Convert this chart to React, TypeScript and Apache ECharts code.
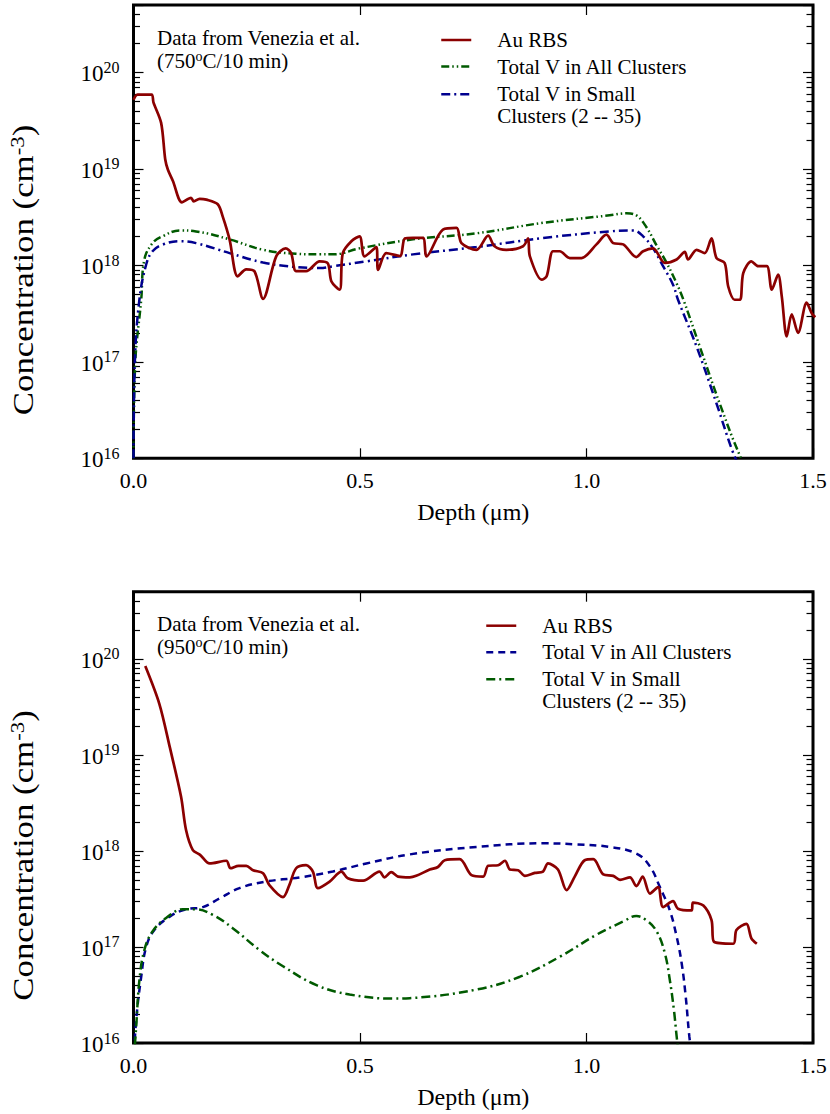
import React, { useEffect, useRef } from 'react';
import * as echarts from 'echarts';

const FONT = "'Liberation Serif', 'Times New Roman', serif";

// ---------- Upper panel: 750°C / 10 min ----------
const topAuDepth = [0.000,0.009,0.040,0.044,0.061,0.070,0.076,0.087,0.107,0.127,0.133,0.146,0.161,0.186,0.197,0.212,0.230,0.249,0.267,0.286,0.315,0.336,0.348,0.359,0.381,0.411,0.429,0.437,0.455,0.462,0.481,0.499,0.510,0.536,0.540,0.558,0.588,0.599,0.617,0.639,0.647,0.683,0.713,0.724,0.757,0.783,0.797,0.823,0.860,0.871,0.875,0.901,0.912,0.926,0.941,0.963,0.989,1.022,1.044,1.059,1.081,1.110,1.125,1.147,1.173,1.199,1.217,1.224,1.243,1.261,1.276,1.287,1.305,1.313,1.327,1.339,1.346,1.364,1.379,1.398,1.409,1.423,1.431,1.442,1.453,1.467,1.486,1.497,1.505];
const topAuConc = [5.2e19,5.9e19,5.9e19,4.9e19,3.0e19,1.26e19,9.8e18,7.5e18,4.5e18,5.0e18,4.6e18,4.9e18,4.8e18,4.3e18,3.2e18,1.86e18,7.7e17,9.1e17,8.7e17,4.5e17,1.24e18,1.5e18,1.34e18,8.7e17,8.7e17,1.1e18,1.05e18,6.8e17,5.6e17,1.34e18,1.78e18,2.0e18,1.24e18,1.55e18,9.0e17,1.34e18,1.25e18,1.9e18,1.93e18,1.93e18,1.24e18,2.35e18,2.45e18,1.7e18,1.45e18,2.03e18,1.58e18,1.45e18,1.58e18,1.9e18,1.24e18,7.1e17,7.7e17,1.4e18,1.4e18,1.19e18,1.19e18,1.65e18,2.08e18,1.7e18,1.65e18,1.22e18,1.4e18,1.5e18,1.06e18,1.15e18,1.38e18,1.15e18,1.45e18,1.34e18,1.9e18,1.19e18,1.06e18,6.0e17,4.4e17,4.4e17,8.3e17,1.1e18,9.8e17,9.8e17,5.6e17,8.0e17,4.8e17,1.83e17,3.1e17,2.0e17,4.1e17,3.2e17,2.9e17];

const topAllDepth = [0.0,0.004,0.017,0.024,0.042,0.064,0.102,0.138,0.212,0.286,0.359,0.411,0.441,0.499,0.617,0.757,0.904,1.051,1.088,1.110,1.132,1.155,1.177,1.199,1.214,1.250,1.294,1.338,1.36];
const topAllConc = [1e16,1e17,4.4e17,1.15e18,1.7e18,2.0e18,2.3e18,2.25e18,1.86e18,1.45e18,1.32e18,1.3e18,1.3e18,1.5e18,1.86e18,2.15e18,2.76e18,3.3e18,3.46e18,3.3e18,2.5e18,1.6e18,1.06e18,6.5e17,4.4e17,1.44e17,3.7e16,1.08e16,7e15];

const topSmallDepth = [0.0,0.003,0.013,0.028,0.042,0.064,0.102,0.138,0.212,0.286,0.359,0.411,0.441,0.514,0.617,0.757,0.904,1.051,1.103,1.125,1.147,1.169,1.191,1.202,1.243,1.287,1.324,1.34];
const topSmallConc = [1e16,1e17,4.4e17,1.02e18,1.4e18,1.64e18,1.78e18,1.7e18,1.34e18,1.07e18,9.6e17,9.4e17,9.8e17,1.1e18,1.3e18,1.55e18,1.92e18,2.25e18,2.3e18,2.0e18,1.5e18,9.8e17,6.3e17,4.4e17,1.44e17,3.7e16,1.13e16,8e15];

// ---------- Lower panel: 950°C / 10 min ----------
const botAuDepth = [0.026,0.057,0.080,0.105,0.116,0.131,0.147,0.168,0.205,0.214,0.232,0.249,0.264,0.286,0.300,0.330,0.344,0.359,0.381,0.396,0.407,0.433,0.459,0.473,0.507,0.543,0.554,0.569,0.584,0.610,0.624,0.654,0.672,0.687,0.720,0.746,0.772,0.783,0.805,0.820,0.831,0.849,0.864,0.886,0.904,0.915,0.937,0.956,0.974,0.996,1.015,1.037,1.059,1.074,1.096,1.110,1.124,1.140,1.158,1.169,1.191,1.202,1.232,1.235,1.258,1.276,1.281,1.324,1.331,1.353,1.364,1.376];
const botAuConc = [8.4e19,3.4e19,1.21e19,3.66e18,1.65e18,1.02e18,9.1e17,7.4e17,7.9e17,6.6e17,7.0e17,7.0e17,6.3e17,5.85e17,4.4e17,3.3e17,4.4e17,6.6e17,7.1e17,6.1e17,4.1e17,4.8e17,6.1e17,5.2e17,4.9e17,6.1e17,5.3e17,6.0e17,5.4e17,5.3e17,5.5e17,6.4e17,6.8e17,8.0e17,8.2e17,5.6e17,5.4e17,7.0e17,7.1e17,7.9e17,6.4e17,6.3e17,5.5e17,5.9e17,6.1e17,7.4e17,6.4e17,3.9e17,5.4e17,8.0e17,8.2e17,5.7e17,5.5e17,5.0e17,5.3e17,4.3e17,5.4e17,3.6e17,4.2e17,2.6e17,3.0e17,2.5e17,2.4e17,2.9e17,2.7e17,1.9e17,1.14e17,1.08e17,1.5e17,1.74e17,1.23e17,1.08e17];

const botAllDepth = [0.0,0.006,0.017,0.028,0.046,0.080,0.116,0.153,0.190,0.234,0.293,0.367,0.440,0.514,0.610,0.757,0.904,0.978,1.051,1.110,1.140,1.162,1.184,1.199,1.210,1.219,1.227,1.232];
const botAllConc = [6e15,1.75e16,4.9e16,1.0e17,1.5e17,2.07e17,2.47e17,2.6e17,3.2e17,4.1e17,4.8e17,5.3e17,6.1e17,7.4e17,9.2e17,1.1e18,1.2e18,1.17e18,1.1e18,9.4e17,6.9e17,4.2e17,2.4e17,1.28e17,6.8e16,3.05e16,1.17e16,8e15];

const botSmallDepth = [0.0,0.006,0.013,0.024,0.042,0.072,0.109,0.138,0.175,0.219,0.278,0.330,0.404,0.477,0.573,0.610,0.757,0.853,0.941,1.022,1.081,1.110,1.132,1.155,1.173,1.184,1.193,1.199,1.203];
const botSmallConc = [6e15,1.5e16,4.5e16,9.3e16,1.45e17,2.0e17,2.47e17,2.47e17,2.16e17,1.57e17,9.3e16,6.3e16,4.0e16,3.2e16,2.9e16,2.93e16,3.6e16,4.9e16,7.9e16,1.34e17,1.84e17,2.1e17,1.9e17,1.45e17,8.6e16,4.5e16,2.2e16,1.17e16,8e15];

const xTicks = [0, 0.5, 1.0, 1.5];
const yMin = 1e16;
const yMax = 5e20;

const NAME_AU = 'Au RBS';
const NAME_ALL = 'Total V in All Clusters';
const NAME_SMALL = 'Total V in Small Clusters (2 -- 35)';

const RED = '#8b0000';
const GREEN = '#005a00';
const BLUE = '#00008f';

function zip(d: number[], c: number[]) {
  return d.map((v, i) => [v, c[i]]);
}

function yLabel(value: number) {
  const e = Math.round(Math.log10(value));
  const p = Math.pow(10, e);
  if (Math.abs(value - p) / p > 1e-6) return '';
  return '{b|10}{s|' + e + '}';
}

function buildOption(p: any) {
  const tickStyle = { color: '#000', width: 1.2 };
  const yBase = {
    type: 'log',
    logBase: 10,
    min: yMin,
    max: yMax,
    axisLine: { show: false, onZero: false },
    axisTick: { show: true, inside: true, length: 10, lineStyle: tickStyle },
    minorTick: { show: true, splitNumber: 9, length: 6.5, lineStyle: tickStyle },
    splitLine: { show: false },
    minorSplitLine: { show: false },
  };
  const xBase = {
    type: 'value',
    min: xTicks[0],
    max: xTicks[xTicks.length - 1],
    interval: 0.5,
    axisLine: { show: false, onZero: false },
    axisTick: { show: true, inside: true, length: 10, lineStyle: tickStyle },
    splitLine: { show: false },
  };
  const legendBase = {
    orient: 'vertical',
    left: p.legendLeft,
    padding: 0,
    itemWidth: 30,
    itemHeight: 14,
    selectedMode: false,
    itemStyle: { opacity: 0, borderWidth: 0 },
    lineStyle: { width: 2.5 },
    textStyle: { fontFamily: FONT, fontSize: 21, color: '#000', lineHeight: 22, padding: [0, 0, 0, 21] },
  };
  const lineSeries = (name: string, data: any, color: string, type: any, width: number, smooth: number, z: number) => ({
    type: 'line',
    name,
    data,
    symbol: 'none',
    showSymbol: false,
    smooth,
    clip: true,
    z,
    lineStyle: { color, width, type, cap: 'butt' },
    itemStyle: { color },
  });
  return {
    animation: false,
    backgroundColor: '#ffffff',
    grid: {
      left: 133.5,
      top: p.gridTop,
      width: 679.5,
      height: p.gridHeight,
      show: true,
      borderColor: '#000',
      borderWidth: 3,
      backgroundColor: 'transparent',
    },
    xAxis: [
      {
        ...xBase,
        position: 'bottom',
        axisLabel: {
          formatter: (v: number) => v.toFixed(1),
          fontFamily: FONT,
          fontSize: 22,
          color: '#000',
          margin: 11,
        },
        name: 'Depth (μm)',
        nameLocation: 'middle',
        nameGap: 42,
        nameTextStyle: { fontFamily: FONT, fontSize: 24, color: '#000' },
      },
      { ...xBase, position: 'top', axisLabel: { show: false } },
    ],
    yAxis: [
      {
        ...yBase,
        position: 'left',
        axisLabel: {
          formatter: yLabel,
          margin: 14,
          color: '#000',
          rich: {
            b: { fontFamily: FONT, fontSize: 23, color: '#000', verticalAlign: 'bottom' },
            s: { fontFamily: FONT, fontSize: 16, color: '#000', verticalAlign: 'top', padding: [0, 0, 10, 0] },
          },
        },
      },
      { ...yBase, position: 'right', axisLabel: { show: false } },
    ],
    legend: [
      { ...legendBase, data: [NAME_AU], top: p.legendCenters[0] - 11 },
      { ...legendBase, data: [NAME_ALL], top: p.legendCenters[1] - 11 },
      {
        ...legendBase,
        data: [NAME_SMALL],
        top: p.legendCenters[2] - 33,
        formatter: () => '\nTotal V in Small\nClusters (2 -- 35)',
      },
    ],
    graphic: [
      {
        type: 'text',
        x: 157,
        y: p.noteTop,
        style: {
          text: 'Data from Venezia et al.\n(' + p.temp + '{o|o}C/10 min)',
          fontFamily: FONT,
          fontSize: 21,
          lineHeight: 23.5,
          fill: '#000',
          align: 'left',
          verticalAlign: 'top',
          rich: {
            o: { fontFamily: FONT, fontSize: 14, lineHeight: 14, fill: '#000', verticalAlign: 'top' },
          },
        },
      },
      {
        type: 'text',
        x: 23,
        y: p.yTitleY,
        rotation: Math.PI / 2,
        scaleX: 1.2,
        style: {
          text: 'Concentration (cm{sup|-3})',
          fontFamily: FONT,
          fontSize: 29,
          fill: '#000',
          align: 'center',
          verticalAlign: 'middle',
          rich: {
            sup: { fontFamily: FONT, fontSize: 19, fill: '#000', verticalAlign: 'top', padding: [0, 0, 10, 0] },
          },
        },
      },
    ],
    series: [
      lineSeries(NAME_ALL, p.all, p.allColor, p.allDash, 2.5, 0.4, 2),
      lineSeries(NAME_SMALL, p.small, p.smallColor, p.smallDash, 2.5, 0.4, 3),
      lineSeries(NAME_AU, p.au, RED, 'solid', 2.7, 0.3, 4),
    ],
  };
}

export default function App() {
  const topRef = useRef<HTMLDivElement>(null);
  const botRef = useRef<HTMLDivElement>(null);

  useEffect(() => {
    const c1 = echarts.init(topRef.current as HTMLDivElement, null, { renderer: 'svg' });
    const c2 = echarts.init(botRef.current as HTMLDivElement, null, { renderer: 'svg' });
    c1.setOption(
      buildOption({
        gridTop: 5,
        gridHeight: 453.3,
        legendLeft: 440,
        legendCenters: [40, 66.5, 94.2],
        noteTop: 25.8,
        yTitleY: 270,
        temp: '750',
        au: zip(topAuDepth, topAuConc),
        all: zip(topAllDepth, topAllConc),
        small: zip(topSmallDepth, topSmallConc),
        allColor: GREEN,
        allDash: [8, 3, 1.5, 3, 1.5, 3],
        smallColor: BLUE,
        smallDash: [9, 4, 2, 4],
      })
    );
    c2.setOption(
      buildOption({
        gridTop: 34.7,
        gridHeight: 451.6,
        legendLeft: 485,
        legendCenters: [68.7, 95.3, 122.3],
        noteTop: 54.8,
        yTitleY: 298.5,
        temp: '950',
        au: zip(botAuDepth, botAuConc),
        all: zip(botAllDepth, botAllConc),
        small: zip(botSmallDepth, botSmallConc),
        allColor: BLUE,
        allDash: [7, 5],
        smallColor: GREEN,
        smallDash: [9, 4, 2, 4],
      })
    );
    return () => {
      c1.dispose();
      c2.dispose();
    };
  }, []);

  return (
    <div style={{ position: 'absolute', left: 0, top: 0, width: 830, height: 1114, background: '#fff' }}>
      <div ref={topRef} style={{ width: 830, height: 557 }} />
      <div ref={botRef} style={{ width: 830, height: 557 }} />
    </div>
  );
}
